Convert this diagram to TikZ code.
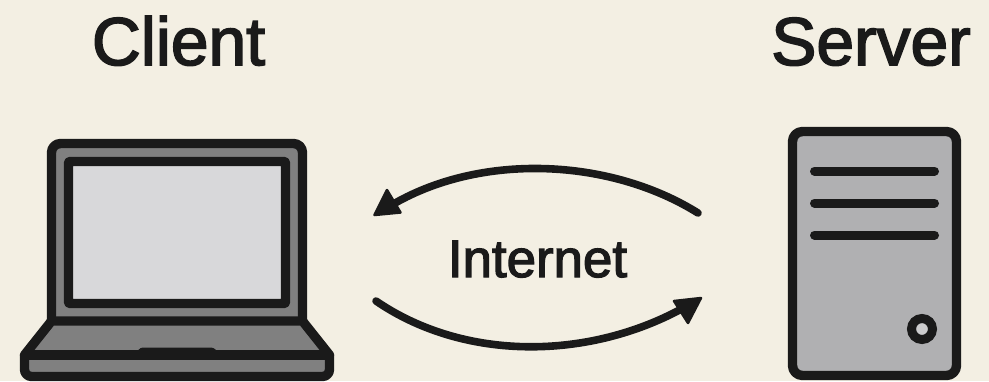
\documentclass[tikz,border=0pt]{standalone}
\usepackage{fontspec}
\setmainfont{Liberation Sans}
\newfontfamily\labelfont[FakeBold=2.4]{Liberation Sans}
\usetikzlibrary{arrows.meta}
\definecolor{paper}{HTML}{F3EFE3}
\definecolor{ink}{HTML}{1A1A1A}
\definecolor{lidgray}{HTML}{808080}
\definecolor{screengray}{HTML}{D8D8DA}
\definecolor{towergray}{HTML}{B0B0B2}
\tikzset{
  outline/.style={draw=ink,line width=9.4bp,line join=round},
  bar/.style={draw=ink,line width=9bp,line cap=round},
  titletext/.style={text=ink,inner sep=0pt,anchor=base,font=\labelfont\fontsize{68}{68}\selectfont},
  midtext/.style={text=ink,inner sep=0pt,anchor=base,font=\labelfont\fontsize{53}{53}\selectfont},
  flow/.style={draw=ink,line width=7.6bp,line cap=round},
  flowhead/.style={fill=ink,draw=ink,line width=2.5bp,line join=round},
}
\begin{document}
\begin{tikzpicture}[x=1bp,y=-1bp]
\useasboundingbox (0,0) rectangle (989,381);
\fill[paper] (0,0) rectangle (989,381);
% titles
\node[titletext] (client) at (178.5,65) {Client};
\node[titletext] (server) at (871,65) {Server};
\node[midtext] (internet) at (537.5,277) {Internet};
% laptop lid
\draw[outline,fill=lidgray,rounded corners=9bp] (51.5,321) -- (51.5,143.5) -- (302.5,143.5) -- (302.5,321);
\draw[outline,fill=screengray,rounded corners=1bp] (68.5,161.5) rectangle (285.5,303.5);
% laptop base
\draw[outline,fill=lidgray] (51.5,321) -- (302.5,321) -- (329.5,355) -- (24.5,355) -- cycle;
\draw[outline,fill=lidgray,rounded corners=7bp] (24.5,355) -- (24.5,376.5) -- (329.5,376.5) -- (329.5,355);
\draw[outline] (24.5,355) -- (329.5,355);
\fill[ink,rounded corners=3bp] (135,355) -- (140,347.5) -- (214,347.5) -- (220,355) -- cycle;
% server
\draw[outline,fill=towergray,rounded corners=10bp] (792.5,131.5) rectangle (956.5,375.5);
\draw[bar] (814.5,171) -- (934.5,171);
\draw[bar] (814.5,203) -- (934.5,203);
\draw[bar] (814.5,235) -- (934.5,235);
\draw[draw=ink,line width=9bp,fill=screengray!70!towergray] (922,329) circle (10.5bp);
% connectors
\coordinate (topstart) at (698,213);
\coordinate (topend) at (390,206);
\coordinate (botstart) at (376,301);
\coordinate (botend) at (685,307);
\draw[flow] (topstart) .. controls (610,158) and (480,152) .. (topend);
\draw[flow] (botstart) .. controls (465,362) and (590,360) .. (botend);
\draw[flowhead] (374.5,215) -- (387,190) -- (400.5,212.5) -- cycle;
\draw[flowhead] (701,298) -- (674,301) -- (688,323) -- cycle;
\end{tikzpicture}
\end{document}
